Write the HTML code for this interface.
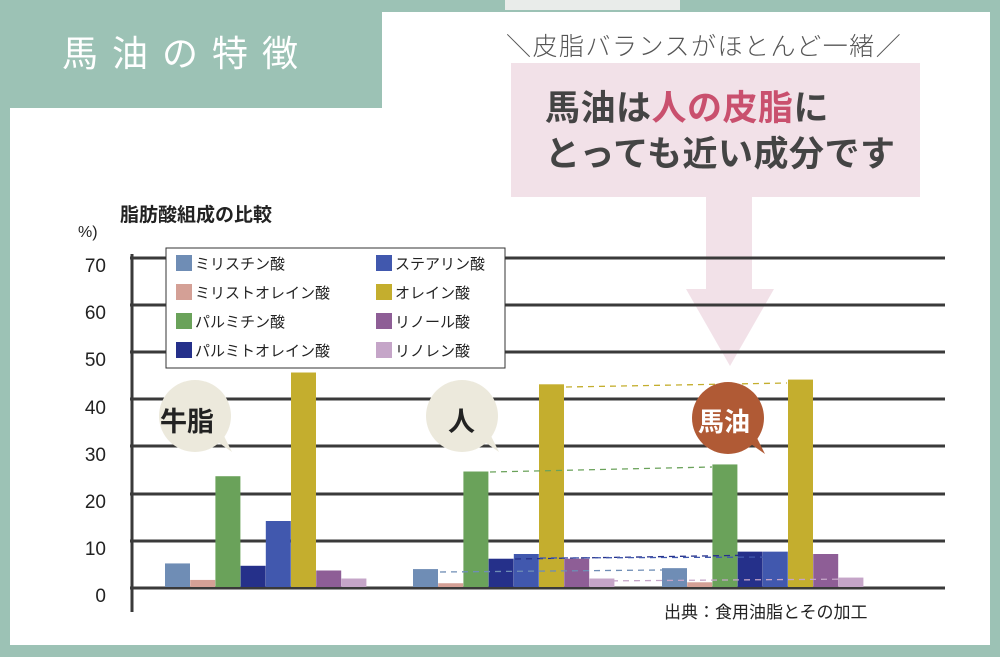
<!DOCTYPE html><html><head><meta charset="utf-8"><style>
body{margin:0;width:1000px;height:657px;overflow:hidden;background:#9cc2b5;font-family:"Liberation Sans","Noto Sans CJK JP",sans-serif;}
.a{position:absolute}
</style></head><body>
<div class="a" style="left:10px;top:12px;width:980px;height:633px;background:#fff"></div>
<div class="a" style="left:0;top:0;width:382px;height:108px;background:#9cc2b5"></div>
<div class="a" style="left:505px;top:0;width:175px;height:10px;background:#e9ecea"></div>
<div class="a" style="left:62px;top:32px;color:#fff;font-size:36px;letter-spacing:14px;line-height:44px">馬油の特徴</div>
<div class="a" style="left:506px;top:27px;color:#555;font-size:25px;font-weight:300;letter-spacing:1.5px">＼皮脂バランスがほとんど一緒／</div>
<svg class="a" style="left:0;top:0" width="1000" height="657">
<rect x="511" y="63" width="409" height="134" fill="#f2e1e8"/>
<polygon points="706,197 752,197 752,289 774,289 730,366 686,289 706,289" fill="#f2e1e8"/>
<g stroke="#3a3a3a" stroke-width="3">
<line x1="130" y1="258" x2="945" y2="258"/><line x1="130" y1="305" x2="945" y2="305"/>
<line x1="130" y1="352" x2="945" y2="352"/><line x1="130" y1="399" x2="945" y2="399"/>
<line x1="130" y1="446" x2="945" y2="446"/><line x1="130" y1="494" x2="945" y2="494"/>
<line x1="130" y1="541" x2="945" y2="541"/><line x1="130" y1="588" x2="945" y2="588"/>
<line x1="132" y1="254" x2="132" y2="612"/>
</g>
<g id="bars"></g>
<g fill="none" stroke-dasharray="6,5" stroke-width="1.3">
<line x1="566" y1="387" x2="787" y2="383" stroke="#c4ae2e"/>
<line x1="490" y1="472" x2="712" y2="467" stroke="#6aa25a"/>
<line x1="440" y1="572" x2="662" y2="570" stroke="#6f8db5"/>
<line x1="515" y1="559" x2="762" y2="555" stroke="#25308a"/>
<line x1="540" y1="558" x2="787" y2="557" stroke="#4158ae"/>
<line x1="590" y1="581" x2="862" y2="579" stroke="#c5a5c8"/>
</g>
<rect x="166" y="248" width="339" height="120" fill="#fff" stroke="#333" stroke-width="1"/>
<circle cx="195" cy="416" r="36" fill="#ece9dc"/><polygon points="215,440 232,452 222,432" fill="#ece9dc"/>
<circle cx="462" cy="416" r="36" fill="#ece9dc"/><polygon points="482,440 499,452 489,432" fill="#ece9dc"/>
<circle cx="728" cy="418" r="36" fill="#b05a35"/><polygon points="748,442 765,454 755,434" fill="#b05a35"/>
</svg>
<div class="a" style="left:545px;top:86px;font-size:35px;font-weight:bold;color:#444;line-height:46px;letter-spacing:0.5px">馬油は<span style="color:#c9506e">人の皮脂</span>に<br>とっても近い成分です</div>
<div class="a" style="left:120px;top:200px;font-size:19px;font-weight:bold;color:#222">脂肪酸組成の比較</div>
<div class="a" style="left:78px;top:224px;font-size:16px;color:#222">%)</div>
<div class="a" style="left:60px;top:243px;font-size:19px;color:#222;line-height:47.2px;text-align:right;width:46px">70<br>60<br>50<br>40<br>30<br>20<br>10<br>0</div>
<div class="a" style="left:160px;top:400px;font-size:27px;font-weight:bold;color:#222">牛脂</div>
<div class="a" style="left:448px;top:400px;font-size:27px;font-weight:bold;color:#222">人</div>
<div class="a" style="left:698px;top:402px;font-size:26px;font-weight:bold;color:#fff">馬油</div>
<div class="a" style="left:664px;top:598px;font-size:17px;color:#222">出典：食用油脂とその加工</div>
<div class="a" style="left:176px;top:250px;font-size:15px;color:#222;line-height:29px">
<div><span style="display:inline-block;width:16px;height:16px;background:#6f8db5;vertical-align:-2px;margin-right:3px"></span>ミリスチン酸</div>
<div><span style="display:inline-block;width:16px;height:16px;background:#d4a096;vertical-align:-2px;margin-right:3px"></span>ミリストオレイン酸</div>
<div><span style="display:inline-block;width:16px;height:16px;background:#6aa25a;vertical-align:-2px;margin-right:3px"></span>パルミチン酸</div>
<div><span style="display:inline-block;width:16px;height:16px;background:#25308a;vertical-align:-2px;margin-right:3px"></span>パルミトオレイン酸</div></div>
<div class="a" style="left:376px;top:250px;font-size:15px;color:#222;line-height:29px">
<div><span style="display:inline-block;width:16px;height:16px;background:#4158ae;vertical-align:-2px;margin-right:3px"></span>ステアリン酸</div>
<div><span style="display:inline-block;width:16px;height:16px;background:#c4ae2e;vertical-align:-2px;margin-right:3px"></span>オレイン酸</div>
<div><span style="display:inline-block;width:16px;height:16px;background:#8e5e96;vertical-align:-2px;margin-right:3px"></span>リノール酸</div>
<div><span style="display:inline-block;width:16px;height:16px;background:#c5a5c8;vertical-align:-2px;margin-right:3px"></span>リノレン酸</div></div>
<script>
var c=["#6f8db5","#d4a096","#6aa25a","#25308a","#4158ae","#c4ae2e","#8e5e96","#c5a5c8"];
var g=[[165,[5,1.5,23.5,4.5,14,45.5,3.5,1.8]],[413,[3.8,0.8,24.5,6,7,43,6,1.8]],[662,[4,1,26,7.5,7.5,44,7,2]]];
var s="";g.forEach(function(q){q[1].forEach(function(v,i){var h=v*4.714;s+='<rect x="'+(q[0]+i*25.2)+'" y="'+(587-h)+'" width="25" height="'+h+'" fill="'+c[i]+'"/>';});});
document.getElementById("bars").innerHTML=s;
</script>
</body></html>
